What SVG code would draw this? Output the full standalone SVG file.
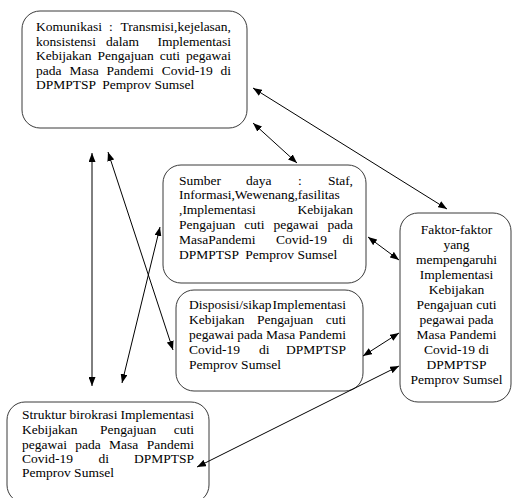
<svg xmlns="http://www.w3.org/2000/svg" width="512" height="498" viewBox="0 0 512 498">
<defs>
<marker id="ah" viewBox="0 0 9 7" refX="9" refY="3.5" markerWidth="9" markerHeight="7" markerUnits="userSpaceOnUse" orient="auto-start-reverse">
<path d="M0,0 L9,3.5 L0,7 z" fill="#000"/>
</marker>
<style>
.box{fill:#fff;stroke:#3a3a3a;stroke-width:1}
.c{text-anchor:middle}
.e{text-anchor:end}
.ln{stroke:#000;stroke-width:1;fill:none;marker-start:url(#ah);marker-end:url(#ah)}
</style>
</defs>
<rect width="512" height="498" fill="#fff"/>
<g font-family="Liberation Serif, serif" font-size="13.5" fill="#000">
<g id="komunikasi">
<rect class="box" x="22" y="11" width="225" height="117" rx="18"/>
<text x="36" y="31">Komunikasi</text><text x="109" y="31">:</text><text class="e" x="231" y="31">Transmisi,kejelasan,</text>
<text x="36" y="46">konsistensi</text><text x="106" y="46">dalam</text><text class="e" x="231" y="46">Implementasi</text>
<text x="36" y="60">Kebijakan</text><text x="97.5" y="60">Pengajuan</text><text x="159.7" y="60">cuti</text><text class="e" x="231" y="60">pegawai</text>
<text x="36" y="75">pada</text><text x="69.4" y="75">Masa</text><text x="106.5" y="75">Pandemi</text><text x="161.7" y="75">Covid-19</text><text class="e" x="231" y="75">di</text>
<text x="36" y="89" xml:space="preserve">DPMPTSP  Pemprov Sumsel</text>
</g>
<g id="sumber">
<rect class="box" x="163" y="165" width="203" height="118" rx="18"/>
<text x="179" y="185">Sumber</text><text x="246" y="185">daya</text><text x="298" y="185">:</text><text class="e" x="353" y="185">Staf,</text>
<text x="179" y="199">Informasi,Wewenang,fasilitas</text>
<text x="179" y="214">,Implementasi</text><text class="e" x="353" y="214">Kebijakan</text>
<text x="179" y="229">Pengajuan</text><text x="244.2" y="229">cuti</text><text x="273.5" y="229">pegawai</text><text class="e" x="353" y="229">pada</text>
<text x="179" y="244">MasaPandemi</text><text x="276" y="244">Covid-19</text><text class="e" x="353" y="244">di</text>
<text x="179" y="259" xml:space="preserve">DPMPTSP  Pemprov Sumsel</text>
</g>
<g id="disposisi">
<rect class="box" x="176" y="290" width="187" height="101" rx="18"/>
<text x="189" y="309">Disposisi/sikap</text><text class="e" x="346" y="309">Implementasi</text>
<text x="189" y="324">Kebijakan</text><text x="257" y="324">Pengajuan</text><text class="e" x="346" y="324">cuti</text>
<text x="189" y="339">pegawai</text><text x="237.3" y="339">pada</text><text x="266.1" y="339">Masa</text><text class="e" x="346" y="339">Pandemi</text>
<text x="189" y="354">Covid-19</text><text x="259" y="354">di</text><text class="e" x="346" y="354">DPMPTSP</text>
<text x="189" y="369">Pemprov Sumsel</text>
</g>
<g id="faktor">
<rect class="box" x="400" y="213" width="111" height="189" rx="18"/>
<text class="c" x="456.5" y="234">Faktor-faktor</text>
<text class="c" x="456.5" y="249">yang</text>
<text class="c" x="456.5" y="264">mempengaruhi</text>
<text class="c" x="456.5" y="279">Implementasi</text>
<text class="c" x="456.5" y="294">Kebijakan</text>
<text class="c" x="456.5" y="309">Pengajuan cuti</text>
<text class="c" x="456.5" y="324">pegawai pada</text>
<text class="c" x="456.5" y="339">Masa Pandemi</text>
<text class="c" x="456.5" y="354">Covid-19 di</text>
<text class="c" x="456.5" y="369">DPMPTSP</text>
<text class="c" x="456.5" y="384">Pemprov Sumsel</text>
</g>
<g id="struktur">
<rect class="box" x="7" y="402" width="202" height="101" rx="18"/>
<text x="22" y="419">Struktur</text><text x="69.4" y="419">birokrasi</text><text class="e" x="194" y="419">Implementasi</text>
<text x="22" y="434">Kebijakan</text><text x="100" y="434">Pengajuan</text><text class="e" x="194" y="434">cuti</text>
<text x="22" y="449">pegawai</text><text x="75.3" y="449">pada</text><text x="109.1" y="449">Masa</text><text class="e" x="194" y="449">Pandemi</text>
<text x="22" y="463">Covid-19</text><text x="98.5" y="463">di</text><text class="e" x="194" y="463">DPMPTSP</text>
<text x="22" y="477">Pemprov Sumsel</text>
</g>
</g>
<g id="connectors">
<line class="ln" x1="92" y1="153" x2="92" y2="386"/>
<line class="ln" x1="108" y1="152" x2="173" y2="350"/>
<line class="ln" x1="160" y1="227" x2="122" y2="383"/>
<line class="ln" x1="253" y1="123" x2="297" y2="163"/>
<line class="ln" x1="253" y1="88" x2="447" y2="209"/>
<line class="ln" x1="368" y1="237" x2="399" y2="260"/>
<line class="ln" x1="363" y1="356" x2="399" y2="333"/>
<line class="ln" x1="197" y1="467" x2="399" y2="366"/>
</g>
</svg>
